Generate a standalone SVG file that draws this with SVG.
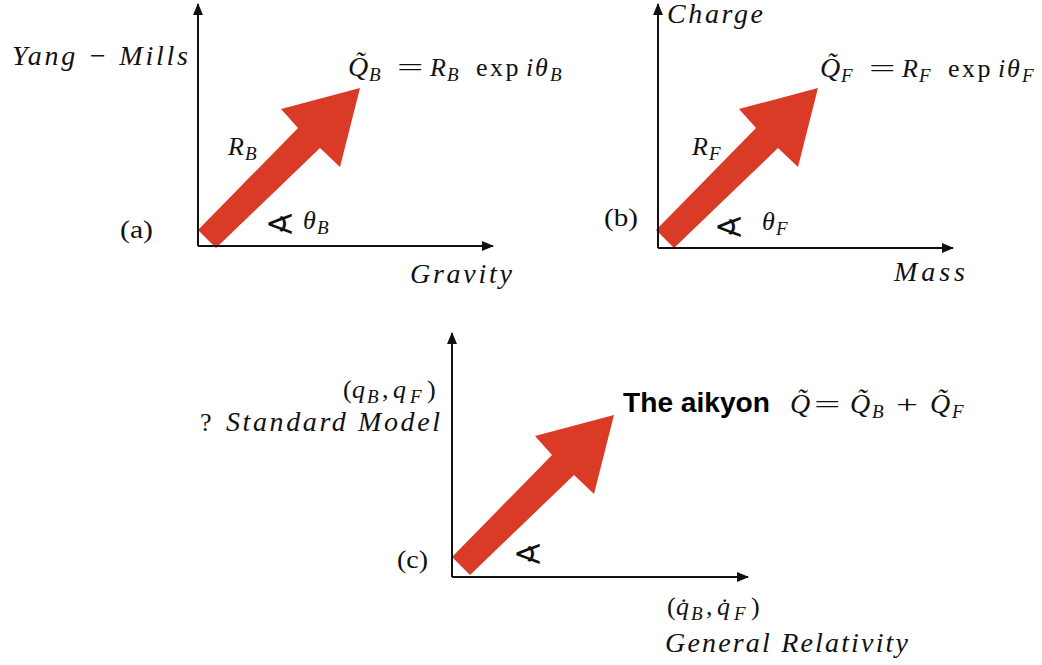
<svg xmlns="http://www.w3.org/2000/svg" width="1042" height="665" viewBox="0 0 1042 665">
<style>
.m{font-family:"Liberation Serif","DejaVu Serif",serif;font-style:italic;font-size:26px;fill:#111}
.q{font-size:28px}
.l{font-family:"Liberation Serif","DejaVu Serif",serif;font-style:italic;font-size:28px;fill:#111}
.r{font-family:"Liberation Serif","DejaVu Serif",serif;font-style:normal;font-size:26px;fill:#111}
.s{font-size:19px}
.ex{letter-spacing:2.5px}
.ang{font-family:"DejaVu Sans",sans-serif;font-size:28px;fill:#111}
.b{font-family:"Liberation Sans",Arial,sans-serif;font-weight:bold;font-size:28px;fill:#000}
.ax{stroke:#111;stroke-width:2;fill:none}
.big{fill:#DA3B27}
</style>
<defs>
<marker id="ah" viewBox="0 0 12 10" refX="11" refY="5" markerWidth="12" markerHeight="10" markerUnits="userSpaceOnUse" orient="auto">
<path d="M0,0 L12,5 L0,10 Z" fill="#111"/>
</marker>
<path id="fat" d="M0,0 L100,-102 L83,-121 L162,-142 L142,-63 L122,-82 L18,18 Z"/>
</defs>
<rect width="1042" height="665" fill="#fff"/>

<g id="panel-a">
<use href="#fat" class="big" x="198" y="230"/>
<g id="axes-a">
<path class="ax" d="M198,246 L198,4" marker-end="url(#ah)"/>
<path class="ax" d="M198,246 L493,246" marker-end="url(#ah)"/>
</g>
<text class="l" x="12" y="65" textLength="176" lengthAdjust="spacing">Yang − Mills</text>
<text class="m"><tspan class="q" x="348" y="76">Q̃</tspan><tspan class="s" x="369" y="81">B</tspan><tspan x="430" y="76">R</tspan><tspan class="s" x="447" y="81">B</tspan><tspan class="r ex" x="476" y="76">exp</tspan><tspan x="526" y="76">i</tspan><tspan x="535" y="76">θ</tspan><tspan class="s" x="550" y="81">B</tspan></text>
<text class="r" transform="translate(397,76) scale(1.8,1)">=</text>
<text class="m"><tspan x="228" y="155">R</tspan><tspan class="s" x="245" y="160">B</tspan></text>
<text class="r" x="120" y="238" textLength="33" lengthAdjust="spacingAndGlyphs">(a)</text>
<text class="ang" transform="translate(264,234) scale(1.35,1)">∢</text>
<text class="m"><tspan x="303" y="229">θ</tspan><tspan class="s" x="317" y="234">B</tspan></text>
<text class="l" x="410" y="283" textLength="102" lengthAdjust="spacing">Gravity</text>
</g>

<g id="panel-b">
<use href="#fat" class="big" x="656" y="230"/>
<g id="axes-b">
<path class="ax" d="M658,248 L658,4" marker-end="url(#ah)"/>
<path class="ax" d="M658,248 L953,248" marker-end="url(#ah)"/>
</g>
<text class="l" x="667" y="23" textLength="96" lengthAdjust="spacing">Charge</text>
<text class="m"><tspan class="q" x="820" y="77">Q̃</tspan><tspan class="s" x="841" y="82">F</tspan><tspan x="902" y="77">R</tspan><tspan class="s" x="919" y="82">F</tspan><tspan class="r ex" x="948" y="77">exp</tspan><tspan x="998" y="77">i</tspan><tspan x="1007" y="77">θ</tspan><tspan class="s" x="1022" y="82">F</tspan></text>
<text class="r" transform="translate(869,77) scale(1.8,1)">=</text>
<text class="m"><tspan x="692" y="155">R</tspan><tspan class="s" x="709" y="160">F</tspan></text>
<text class="r" x="604" y="226" textLength="34" lengthAdjust="spacingAndGlyphs">(b)</text>
<text class="ang" transform="translate(713,237) scale(1.35,1)">∢</text>
<text class="m"><tspan x="762" y="230">θ</tspan><tspan class="s" x="776" y="235">F</tspan></text>
<text class="l" x="894" y="281" textLength="71" lengthAdjust="spacing">Mass</text>
</g>

<g id="panel-c">
<use href="#fat" class="big" x="452" y="557"/>
<g id="axes-c">
<path class="ax" d="M452,577 L452,333" marker-end="url(#ah)"/>
<path class="ax" d="M452,577 L748,577" marker-end="url(#ah)"/>
</g>
<text class="r"><tspan x="343" y="398">(</tspan><tspan class="m" x="352" y="398">q</tspan><tspan class="m s" x="367" y="403">B</tspan><tspan x="382" y="398">,</tspan><tspan class="m" x="393" y="398">q</tspan><tspan class="m s" x="410" y="403">F</tspan><tspan x="427" y="398">)</tspan></text>
<text class="r" x="200" y="431">?</text>
<text class="l" x="226" y="431" textLength="214" lengthAdjust="spacing">Standard Model</text>
<text class="b" x="623" y="412" textLength="147" lengthAdjust="spacingAndGlyphs">The aikyon</text>
<text class="m"><tspan class="q" x="790" y="413">Q̃</tspan><tspan class="q" x="850" y="413">Q̃</tspan><tspan class="s" x="872" y="418">B</tspan><tspan class="q" x="930" y="413">Q̃</tspan><tspan class="s" x="952" y="418">F</tspan></text>
<text class="r" transform="translate(814,413) scale(1.8,1)">=</text>
<text class="r" transform="translate(896,413) scale(1.5,1)">+</text>
<text class="r" x="397" y="568" textLength="31" lengthAdjust="spacingAndGlyphs">(c)</text>
<text class="ang" transform="translate(512,564) scale(1.35,1)">∢</text>
<text class="r"><tspan x="667" y="615">(</tspan><tspan class="m" x="676" y="615">q̇</tspan><tspan class="m s" x="691" y="620">B</tspan><tspan x="706" y="615">,</tspan><tspan class="m" x="717" y="615">q̇</tspan><tspan class="m s" x="734" y="620">F</tspan><tspan x="751" y="615">)</tspan></text>
<text class="l" x="665" y="652" textLength="243" lengthAdjust="spacing">General Relativity</text>
</g>
</svg>
